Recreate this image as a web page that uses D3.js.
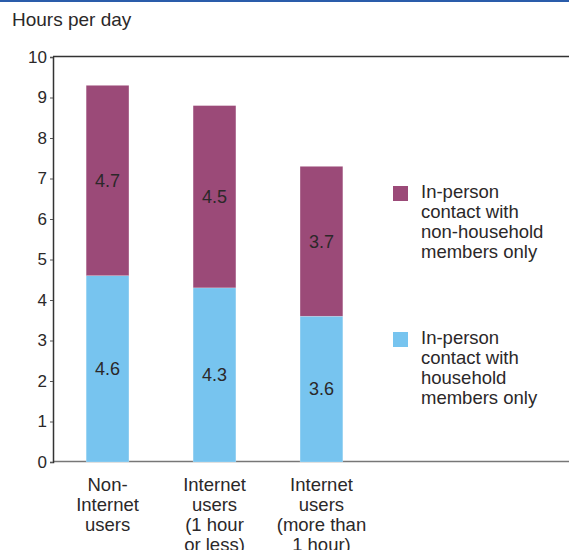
<!DOCTYPE html>
<html>
<head>
<meta charset="utf-8">
<script src="https://cdn.jsdelivr.net/npm/d3@7"></script>
<style>
  body { margin: 0; background: #fff; }
  svg text { font-family: "Liberation Sans", Arial, sans-serif; fill: #2b2829; }
</style>
</head>
<body>
<script>
// chart values
var categories = ["Non-Internet users", "Internet users (1 hour or less)", "Internet users (more than 1 hour)"];
var categoryLines = [["Non-", "Internet", "users"], ["Internet", "users", "(1 hour", "or less)"], ["Internet", "users", "(more than", "1 hour)"]];
var household = [4.6, 4.3, 3.6];
var nonHousehold = [4.7, 4.5, 3.7];
var yTicks = [0, 1, 2, 3, 4, 5, 6, 7, 8, 9, 10];
var seriesNames = ["household", "nonHousehold"];
var legendLabels = {
    nonHousehold: ["In-person", "contact with", "non-household", "members only"],
    household: ["In-person", "contact with", "household", "members only"]
};
var colors = { household: "#77c4ef", nonHousehold: "#9b4a78" };

var width = 569, height = 550;
var margin = { left: 53, top: 57, bottom: 88 };

var svg = d3.select("body").append("svg")
    .attr("width", width)
    .attr("height", height);

// blue rule along the top
svg.append("rect")
    .attr("x", 0).attr("y", 0)
    .attr("width", width).attr("height", 2)
    .attr("fill", "#2a5caa");

svg.append("text")
    .attr("x", 12).attr("y", 26)
    .attr("font-size", 19)
    .text("Hours per day");

var y = d3.scaleLinear().domain([0, 10]).range([height - margin.bottom, margin.top]);
var x = d3.scaleBand().domain(categories).range([53, 376]).paddingInner(0.6).paddingOuter(0.31);

var rows = categories.map(function(c, i) {
    return { cat: c, household: household[i], nonHousehold: nonHousehold[i] };
});
var stacked = d3.stack().keys(seriesNames)(rows);

// frame lines
svg.append("line")
    .attr("x1", margin.left).attr("x2", width)
    .attr("y1", y(10) - 0.5).attr("y2", y(10) - 0.5)
    .attr("stroke", "#333").attr("stroke-width", 1.5);
svg.append("line")
    .attr("x1", margin.left).attr("x2", width)
    .attr("y1", y(0) - 0.5).attr("y2", y(0) - 0.5)
    .attr("stroke", "#777").attr("stroke-width", 1.5);

var yAxis = svg.append("g")
    .attr("transform", "translate(" + margin.left + ",0)")
    .call(d3.axisLeft(y).tickValues(yTicks).tickSize(3).tickPadding(3));
yAxis.select(".domain").attr("stroke", "#333").attr("stroke-width", 1.5);
yAxis.selectAll(".tick line").attr("stroke", "#555");
yAxis.selectAll(".tick text")
    .attr("font-size", 17)
    .attr("fill", "#2b2829")
    .attr("font-family", "Liberation Sans, Arial, sans-serif");

var groups = svg.selectAll(".series")
    .data(stacked)
    .enter().append("g")
    .attr("class", "series")
    .attr("fill", function(d) { return colors[d.key]; });

groups.selectAll("rect")
    .data(function(d) { return d; })
    .enter().append("rect")
    .attr("x", function(d) { return x(d.data.cat); })
    .attr("width", x.bandwidth())
    .attr("y", function(d) { return y(d[1]); })
    .attr("height", function(d) { return y(d[0]) - y(d[1]); })
    .attr("stroke", "#fff")
    .attr("stroke-opacity", 0.4)
    .attr("stroke-width", 0.5);

groups.selectAll("text.val")
    .data(function(d) { return d; })
    .enter().append("text")
    .attr("class", "val")
    .attr("x", function(d) { return x(d.data.cat) + x.bandwidth() / 2; })
    .attr("y", function(d) { return y((d[0] + d[1]) / 2); })
    .attr("dy", "0.35em")
    .attr("text-anchor", "middle")
    .attr("font-size", 18)
    .text(function(d) { return (d[1] - d[0]).toFixed(1); });

// category labels
var catLabels = svg.selectAll(".cat")
    .data(categories)
    .enter().append("text")
    .attr("class", "cat")
    .attr("text-anchor", "middle")
    .attr("font-size", 18.5)
    .attr("y", 491);
catLabels.selectAll("tspan")
    .data(function(d, i) { return categoryLines[i].map(function(t) { return { t: t, c: d }; }); })
    .enter().append("tspan")
    .attr("x", function(d) { return x(d.c) + x.bandwidth() / 2; })
    .attr("dy", function(d, i) { return i === 0 ? 0 : 20; })
    .text(function(d) { return d.t; });

// legend
var legendOrder = ["nonHousehold", "household"];
var legend = svg.selectAll(".legend")
    .data(legendOrder)
    .enter().append("g")
    .attr("class", "legend")
    .attr("transform", function(d, i) { return "translate(393," + (186 + i * 146) + ")"; });
legend.append("rect")
    .attr("width", 15).attr("height", 15)
    .attr("fill", function(d) { return colors[d]; });
legend.append("text")
    .attr("font-size", 18.5)
    .attr("y", 12)
    .selectAll("tspan")
    .data(function(d) { return legendLabels[d]; })
    .enter().append("tspan")
    .attr("x", 28)
    .attr("dy", function(d, i) { return i === 0 ? 0 : 20; })
    .text(function(d) { return d; });
</script>
</body>
</html>
